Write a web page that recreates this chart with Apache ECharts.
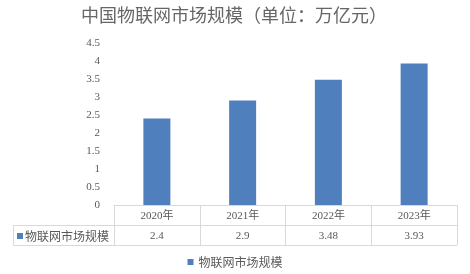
<!DOCTYPE html>
<html>
<head>
<meta charset="utf-8">
<script src="https://cdn.jsdelivr.net/npm/echarts@6/dist/echarts.min.js"></script>
<style>html,body{margin:0;padding:0;background:#fff;}#c{width:470px;height:274px;}</style>
</head>
<body>
<div id="c"></div>
<script>
const titleText = '中国物联网市场规模（单位：万亿元）';
const categories = ['2020年', '2021年', '2022年', '2023年'];
const seriesName = '物联网市场规模';
const values = [2.4, 2.9, 3.48, 3.93];
const yMin = 0, yMax = 4.5, yStep = 0.5;

const chart = echarts.init(document.getElementById('c'), null, {renderer: 'canvas'});
const gray = '#595959';
const lineC = '#d9d9d9';
const barC = '#4f80bd';
const serif = '"Liberation Serif", "Noto Sans CJK SC", serif';
const cjk = '"Noto Sans CJK SC", sans-serif';

chart.setOption({
  animation: false,
  backgroundColor: '#fff',
  title: {
    text: titleText,
    left: 229, top: 1, textAlign: 'center',
    textStyle: {fontFamily: cjk, fontSize: 18, fontWeight: 'normal', color: '#666666'}
  },
  legend: {
    data: [seriesName],
    bottom: 1, left: 'center',
    icon: 'rect', itemWidth: 6, itemHeight: 6,
    textStyle: {fontFamily: cjk, fontSize: 12, color: gray}
  },
  grid: {left: 114, right: 13, top: 43, bottom: 69},
  xAxis: {
    type: 'category',
    data: categories,
    axisLine: {show: true, lineStyle: {color: lineC}},
    axisTick: {show: true, length: 40, lineStyle: {color: lineC}},
    axisLabel: {
      margin: 1,
      interval: 0,
      formatter: function (v, i) { return '{y|' + v + '}\n{v|' + values[i] + '}'; },
      rich: {
        y: {fontFamily: serif, fontSize: 11, color: gray, lineHeight: 20},
        v: {fontFamily: serif, fontSize: 11, color: gray, lineHeight: 20}
      }
    }
  },
  yAxis: {
    type: 'value',
    min: yMin, max: yMax, interval: yStep,
    axisLine: {show: false},
    axisTick: {show: false},
    splitLine: {show: false},
    axisLabel: {margin: 14, fontFamily: serif, fontSize: 11, color: gray}
  },
  graphic: [
    {type: 'line', shape: {x1: 13.5, y1: 225.5, x2: 457, y2: 225.5}, style: {stroke: lineC, lineWidth: 1}},
    {type: 'line', shape: {x1: 13.5, y1: 245.5, x2: 457, y2: 245.5}, style: {stroke: lineC, lineWidth: 1}},
    {type: 'line', shape: {x1: 13.5, y1: 225.5, x2: 13.5, y2: 245.5}, style: {stroke: lineC, lineWidth: 1}},
    {type: 'rect', shape: {x: 17, y: 233, width: 6, height: 6}, style: {fill: barC}},
    {type: 'text', x: 25, y: 236, style: {text: seriesName, fontFamily: cjk, fontSize: 12, fill: gray, verticalAlign: 'middle', align: 'left'}}
  ],
  series: [{
    name: seriesName,
    type: 'bar',
    data: values,
    barWidth: 27,
    itemStyle: {color: barC}
  }]
});
</script>
</body>
</html>
